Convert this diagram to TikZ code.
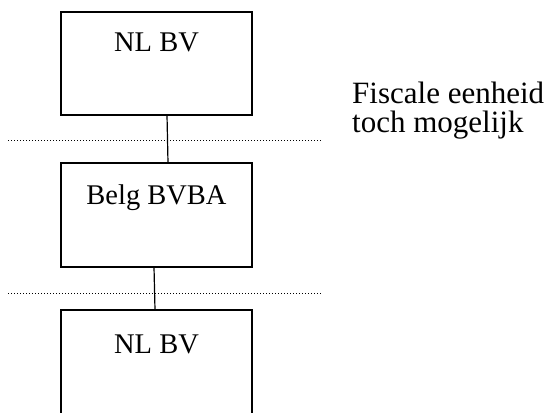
\documentclass[tikz,border=0pt]{standalone}
\usepackage{fontspec}
\setmainfont{Liberation Serif}
\begin{document}
\begin{tikzpicture}[x=1pt,y=-1pt]
\tikzset{
  entity/.style={draw=black, line width=1.5pt, minimum width=191pt, outer sep=0pt, inner sep=0pt},
  boxlabel/.style={anchor=base, inner sep=0pt, font=\fontsize{28.5}{34}\selectfont},
  link/.style={draw=black, line width=1.2pt},
  sep/.style={draw=black, line width=0.9pt, dash pattern=on 0.9pt off 2.1pt},
  note/.style={anchor=base west, align=left, inner sep=0pt, font=\fontsize{31}{29}\selectfont}
}
\useasboundingbox (0,0) rectangle (553,412);
\fill[white] (0,0) rectangle (553,412);

\node[entity, minimum height=103pt, label={[boxlabel, yshift=-40pt]north:NL BV}] (top) at (156.5,63.5) {};
\node[entity, minimum height=104pt, label={[boxlabel, yshift=-41pt]north:Belg BVBA}] (mid) at (156.5,215) {};
\node[entity, minimum height=120pt, label={[boxlabel, yshift=-43pt]north:NL BV}] (bot) at (156.5,370) {};

\draw[link] ([xshift=10.5pt]top.south) -- ([xshift=11.5pt]mid.north);
\draw[link] ([xshift=-2.5pt]mid.south) -- ([xshift=-1.5pt]bot.north);

\draw[sep] (8,140) -- (322,140);
\draw[sep] (8,293) -- (322,293);

\node[note] (fisc) at (352,132) {Fiscale eenheid\\toch mogelijk};
\end{tikzpicture}
\end{document}
